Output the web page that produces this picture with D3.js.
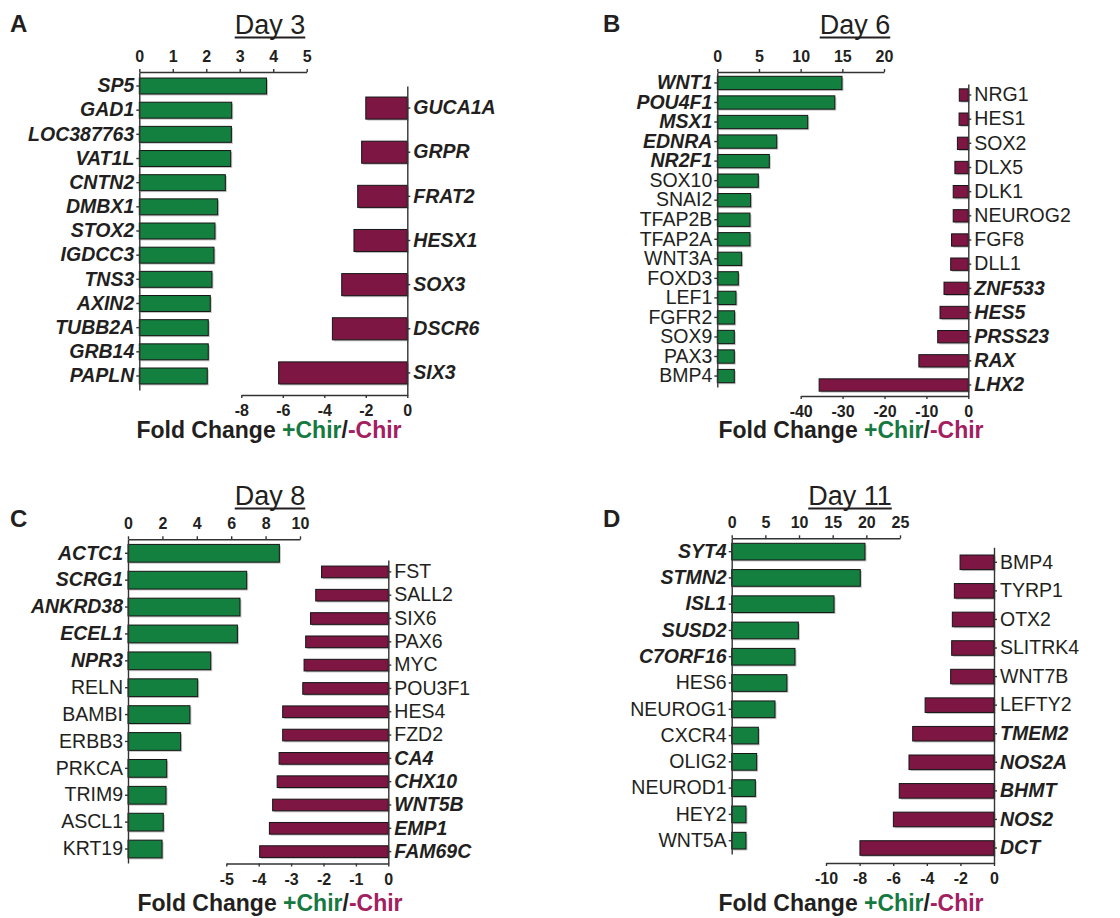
<!DOCTYPE html>
<html>
<head>
<meta charset="utf-8">
<script src="https://cdn.jsdelivr.net/npm/d3@7"></script>
<style>
  body { margin: 0; background: #fff; }
  text { font-family: "Liberation Sans", Arial, sans-serif; fill: #231f20; }
  .axis path, .axis line { stroke: #333; stroke-width: 1.4; }
  .num text { font-weight: bold; font-size: 16px; }
  .gene text { font-size: 19.5px; }
</style>
</head>
<body>
<div id="chart"></div>
<script>
// Day 3
const day3UpGenes = ['SP5', 'GAD1', 'LOC387763', 'VAT1L', 'CNTN2', 'DMBX1', 'STOX2', 'IGDCC3', 'TNS3', 'AXIN2', 'TUBB2A', 'GRB14', 'PAPLN'];
const day3UpFold = [3.8, 2.76, 2.75, 2.73, 2.57, 2.34, 2.26, 2.23, 2.17, 2.12, 2.06, 2.06, 2.03];
const day3DownGenes = ['GUCA1A', 'GRPR', 'FRAT2', 'HESX1', 'SOX3', 'DSCR6', 'SIX3'];
const day3DownFold = [-2.0, -2.2, -2.39, -2.57, -3.16, -3.61, -6.2];
const day3UpTicks = [0, 1, 2, 3, 4, 5];
const day3DownTicks = [-8, -6, -4, -2, 0];

// Day 6
const day6UpGenes = ['WNT1', 'POU4F1', 'MSX1', 'EDNRA', 'NR2F1', 'SOX10', 'SNAI2', 'TFAP2B', 'TFAP2A', 'WNT3A', 'FOXD3', 'LEF1', 'FGFR2', 'SOX9', 'PAX3', 'BMP4'];
const day6UpFold = [14.96, 14.1, 10.85, 7.13, 6.24, 4.92, 4.0, 3.92, 3.92, 2.92, 2.52, 2.24, 2.08, 2.04, 2.04, 2.04];
const day6DownGenes = ['NRG1', 'HES1', 'SOX2', 'DLX5', 'DLK1', 'NEUROG2', 'FGF8', 'DLL1', 'ZNF533', 'HES5', 'PRSS23', 'RAX', 'LHX2'];
const day6DownFold = [-2.15, -2.2, -2.6, -3.2, -3.6, -3.6, -4.0, -4.2, -5.8, -6.75, -7.3, -11.8, -35.6];
const day6UpTicks = [0, 5, 10, 15, 20];
const day6DownTicks = [-40, -30, -20, -10, 0];

// Day 8
const day8UpGenes = ['ACTC1', 'SCRG1', 'ANKRD38', 'ECEL1', 'NPR3', 'RELN', 'BAMBI', 'ERBB3', 'PRKCA', 'TRIM9', 'ASCL1', 'KRT19'];
const day8UpFold = [8.8, 6.9, 6.51, 6.36, 4.81, 4.05, 3.6, 3.06, 2.25, 2.21, 2.05, 1.98];
const day8DownGenes = ['FST', 'SALL2', 'SIX6', 'PAX6', 'MYC', 'POU3F1', 'HES4', 'FZD2', 'CA4', 'CHX10', 'WNT5B', 'EMP1', 'FAM69C'];
const day8DownFold = [-2.06, -2.24, -2.4, -2.55, -2.6, -2.64, -3.26, -3.26, -3.37, -3.43, -3.57, -3.67, -3.97];
const day8UpTicks = [0, 2, 4, 6, 8, 10];
const day8DownTicks = [-5, -4, -3, -2, -1, 0];

// Day 11
const day11UpGenes = ['SYT4', 'STMN2', 'ISL1', 'SUSD2', 'C7ORF16', 'HES6', 'NEUROG1', 'CXCR4', 'OLIG2', 'NEUROD1', 'HEY2', 'WNT5A'];
const day11UpFold = [19.8, 19.1, 15.2, 9.9, 9.4, 8.2, 6.43, 3.96, 3.71, 3.51, 2.12, 2.12];
const day11DownGenes = ['BMP4', 'TYRP1', 'OTX2', 'SLITRK4', 'WNT7B', 'LEFTY2', 'TMEM2', 'NOS2A', 'BHMT', 'NOS2', 'DCT'];
const day11DownFold = [-2.02, -2.36, -2.48, -2.52, -2.58, -4.1, -4.84, -5.06, -5.64, -5.99, -7.98];
const day11UpTicks = [0, 5, 10, 15, 20, 25];
const day11DownTicks = [-10, -8, -6, -4, -2, 0];

// genes set in bold italic
const highlighted = [
  ...day3UpGenes, ...day3DownGenes,
  'WNT1', 'POU4F1', 'MSX1', 'EDNRA', 'NR2F1', 'ZNF533', 'HES5', 'PRSS23', 'RAX', 'LHX2',
  'ACTC1', 'SCRG1', 'ANKRD38', 'ECEL1', 'NPR3', 'CA4', 'CHX10', 'WNT5B', 'EMP1', 'FAM69C',
  'SYT4', 'STMN2', 'ISL1', 'SUSD2', 'C7ORF16', 'TMEM2', 'NOS2A', 'BHMT', 'NOS2', 'DCT'
];

const green = '#13803f';
const red = '#7d1642';

const panels = [
  { letter: 'A', title: 'Day 3', lx: 10, ly: 32, tx: 270, ty: 34, fx: 269, fy: 438,
    up: { genes: day3UpGenes, fold: day3UpFold, ticks: day3UpTicks, x0: 139.3, x1: 306.7, y0: 72, y1: 390, pi: 0.34, po: 0.25 },
    down: { genes: day3DownGenes, fold: day3DownFold, ticks: day3DownTicks, x0: 241.3, x1: 407.3, y0: 86, y1: 395, pi: 0.5, po: 0.25 } },
  { letter: 'B', title: 'Day 6', lx: 603, ly: 32, tx: 855, ty: 34, fx: 851, fy: 438,
    up: { genes: day6UpGenes, fold: day6UpFold, ticks: day6UpTicks, x0: 717.3, x1: 884, y0: 72, y1: 387, pi: 0.32, po: 0.22 },
    down: { genes: day6DownGenes, fold: day6DownFold, ticks: day6DownTicks, x0: 800.7, x1: 968.3, y0: 84, y1: 396, pi: 0.49, po: 0.2 } },
  { letter: 'C', title: 'Day 8', lx: 10, ly: 527, tx: 270, ty: 505, fx: 270, fy: 911,
    up: { genes: day8UpGenes, fold: day8UpFold, ticks: day8UpTicks, x0: 128, x1: 300, y0: 539.3, y1: 863, pi: 0.34, po: 0.19 },
    down: { genes: day8DownGenes, fold: day8DownFold, ticks: day8DownTicks, x0: 226.3, x1: 388.3, y0: 560, y1: 863.5, pi: 0.5, po: 0.26 } },
  { letter: 'D', title: 'Day 11', lx: 603, ly: 527, tx: 850, ty: 505, fx: 851, fy: 911,
    up: { genes: day11UpGenes, fold: day11UpFold, ticks: day11UpTicks, x0: 731.7, x1: 900, y0: 538.3, y1: 854, pi: 0.365, po: 0.19 },
    down: { genes: day11DownGenes, fold: day11DownFold, ticks: day11DownTicks, x0: 826, x1: 994, y0: 547.3, y1: 863, pi: 0.49, po: 0.27 } }
];

const svg = d3.select('#chart').append('svg')
  .attr('width', 1120)
  .attr('height', 918);

function styleGenes(g) {
  g.classed('gene', true);
  g.selectAll('.tick text')
    .style('font-weight', d => highlighted.includes(d) ? 'bold' : 'normal')
    .style('font-style', d => highlighted.includes(d) ? 'italic' : 'normal');
}

function drawBars(g, data, x, y, fill) {
  let rows = data.genes.map((gene, i) => ({ gene: gene, v: data.fold[i] }));
  // soft shadow behind each bar
  g.selectAll(null).data(rows).enter().append('rect')
    .attr('x', d => Math.min(x(0), x(d.v)) + 1.5)
    .attr('y', d => y(d.gene) + 1.5)
    .attr('width', d => Math.abs(x(d.v) - x(0)))
    .attr('height', y.bandwidth())
    .attr('fill', '#c4c4c4');
  g.selectAll(null).data(rows).enter().append('rect')
    .attr('x', d => Math.min(x(0), x(d.v)))
    .attr('y', d => y(d.gene))
    .attr('width', d => Math.abs(x(d.v) - x(0)))
    .attr('height', y.bandwidth())
    .attr('fill', fill)
    .attr('stroke', '#151515')
    .attr('stroke-width', 1);
}

// plain hyphen for negatives, as in the original figure
let fmt = d => String(d);

panels.forEach(p => {
  let g = svg.append('g');

  // +Chir (green) side
  let u = p.up;
  let xu = d3.scaleLinear().domain([u.ticks[0], u.ticks[u.ticks.length - 1]]).range([u.x0, u.x1]);
  let yu = d3.scaleBand().domain(u.genes).range([u.y0, u.y1]).paddingInner(u.pi).paddingOuter(u.po);
  drawBars(g, u, xu, yu, green);
  g.append('g').attr('class', 'axis num')
    .attr('transform', `translate(0,${u.y0})`)
    .call(d3.axisTop(xu).tickValues(u.ticks).tickFormat(fmt).tickSize(3).tickSizeOuter(0).tickPadding(7));
  g.append('g').attr('class', 'axis')
    .attr('transform', `translate(${u.x0},0)`)
    .call(d3.axisLeft(yu).tickSize(3).tickSizeOuter(0).tickPadding(2))
    .call(styleGenes);

  // -Chir (red) side
  let dn = p.down;
  let xd = d3.scaleLinear().domain([dn.ticks[0], dn.ticks[dn.ticks.length - 1]]).range([dn.x0, dn.x1]);
  let yd = d3.scaleBand().domain(dn.genes).range([dn.y0, dn.y1]).paddingInner(dn.pi).paddingOuter(dn.po);
  drawBars(g, dn, xd, yd, red);
  g.append('g').attr('class', 'axis num')
    .attr('transform', `translate(0,${dn.y1})`)
    .call(d3.axisBottom(xd).tickValues(dn.ticks).tickFormat(fmt).tickSize(3).tickSizeOuter(0).tickPadding(7));
  g.append('g').attr('class', 'axis')
    .attr('transform', `translate(${dn.x1},0)`)
    .call(d3.axisRight(yd).tickSize(3).tickSizeOuter(0).tickPadding(3))
    .call(styleGenes);

  g.selectAll('.axis text').attr('fill', '#231f20');

  // panel letter
  g.append('text')
    .attr('x', p.lx).attr('y', p.ly)
    .style('font-size', '24px').style('font-weight', 'bold')
    .text(p.letter);

  // underlined day title
  let t = g.append('text')
    .attr('x', p.tx).attr('y', p.ty)
    .attr('text-anchor', 'middle')
    .style('font-size', '27px')
    .text(p.title);
  let bb = t.node().getBBox();
  g.append('line')
    .attr('x1', bb.x).attr('x2', bb.x + bb.width)
    .attr('y1', p.ty + 3.5).attr('y2', p.ty + 3.5)
    .attr('stroke', '#231f20').attr('stroke-width', 2);

  // axis caption
  let cap = g.append('text')
    .attr('x', p.fx).attr('y', p.fy)
    .attr('text-anchor', 'middle')
    .style('font-size', '23px').style('font-weight', 'bold');
  cap.append('tspan').text('Fold Change ');
  cap.append('tspan').style('fill', '#16793f').text('+Chir');
  cap.append('tspan').text('/');
  cap.append('tspan').style('fill', '#a3205f').text('-Chir');
});
</script>
</body>
</html>
